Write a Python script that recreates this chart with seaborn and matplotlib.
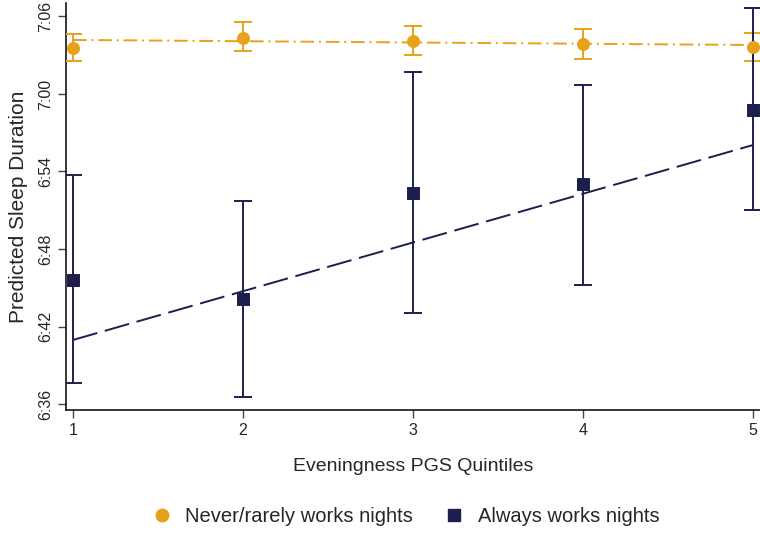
import matplotlib
matplotlib.use("Agg")
import matplotlib.pyplot as plt
import numpy as np
import pandas as pd
import seaborn as sns
from matplotlib.lines import Line2D

# Data (minutes past 6:00)
quintiles = [1, 2, 3, 4, 5]

never_est = [63.56, 64.34, 64.10, 63.87, 63.64]
never_lo = [62.55, 63.33, 63.02, 62.71, 62.55]
never_hi = [64.65, 65.57, 65.26, 65.03, 64.72]

always_est = [45.60, 44.13, 52.34, 53.03, 58.76]
always_lo = [37.63, 36.54, 43.05, 45.21, 51.02]
always_hi = [53.73, 51.72, 61.70, 60.70, 66.66]

fit_x = [1, 5]
never_fit = [64.18, 63.79]
always_fit = [40.96, 56.05]

ytick_vals = [36, 42, 48, 54, 60, 66]
ytick_labels = ["6:36", "6:42", "6:48", "6:54", "7:00", "7:06"]

ORANGE = "#E8A11A"
NAVY = "#1C1F4D"

sns.set_theme(style="ticks")
plt.rcParams["font.family"] = ["Liberation Sans", "DejaVu Sans"]

fig = plt.figure(figsize=(7.6, 5.35), dpi=100)
ax = fig.add_axes([66 / 760, 125 / 535, 694 / 760, 407 / 535])

fit_df = pd.DataFrame({
    "x": fit_x * 2,
    "y": never_fit + always_fit,
    "group": ["never"] * 2 + ["always"] * 2,
})
sns.lineplot(data=fit_df[fit_df.group == "never"], x="x", y="y", ax=ax,
             color=ORANGE, lw=1.4, dashes=False).lines[-1].set_dashes([7, 2.5, 1, 2.5])
sns.lineplot(data=fit_df[fit_df.group == "always"], x="x", y="y", ax=ax,
             color=NAVY, lw=1.4, dashes=False).lines[-1].set_dashes([13, 4])

# Error bars
for est, lo, hi, col in [(never_est, never_lo, never_hi, ORANGE),
                         (always_est, always_lo, always_hi, NAVY)]:
    est = np.array(est)
    yerr = [est - np.array(lo), np.array(hi) - est]
    ax.errorbar(quintiles, est, yerr=yerr, fmt="none", ecolor=col,
                elinewidth=1.4, capsize=6.5, capthick=1.4, zorder=3)

pts = pd.DataFrame({
    "x": quintiles * 2,
    "y": never_est + always_est,
    "group": ["never"] * 5 + ["always"] * 5,
})
sns.scatterplot(data=pts[pts.group == "never"], x="x", y="y", ax=ax,
                color=ORANGE, marker="o", s=75, edgecolor=ORANGE, zorder=4)
sns.scatterplot(data=pts[pts.group == "always"], x="x", y="y", ax=ax,
                color=NAVY, marker="s", s=75, edgecolor=NAVY, zorder=4)

ax.set_xlim(0.959, 5.041)
ax.set_ylim(35.54, 67.04)
ax.set_xticks(quintiles)
ax.set_xticklabels([str(q) for q in quintiles], fontsize=11.5)
ax.set_yticks(ytick_vals)
ax.set_yticklabels(ytick_labels, fontsize=11.5, rotation=90, va="center")
ax.tick_params(axis="both", length=6, width=1, color="#444444")
ax.set_xlabel("Eveningness PGS Quintiles", fontsize=14, labelpad=14)
ax.set_ylabel("Predicted Sleep Duration", fontsize=15, labelpad=7)
for s in ["top", "right"]:
    ax.spines[s].set_visible(False)
for s in ["left", "bottom"]:
    ax.spines[s].set_color("black")
    ax.spines[s].set_linewidth(1.1)

handles = [
    Line2D([], [], marker="o", color=ORANGE, linestyle="none", markersize=9),
    Line2D([], [], marker="s", color=NAVY, linestyle="none", markersize=8),
]
fig.legend(handles, ["Never/rarely works nights", "Always works nights"],
           loc="center", bbox_to_anchor=(0.527, 0.034), ncol=2, frameon=False,
           fontsize=14.5, handletextpad=0.15, columnspacing=1.05)

fig.savefig("out.png", dpi=100)
